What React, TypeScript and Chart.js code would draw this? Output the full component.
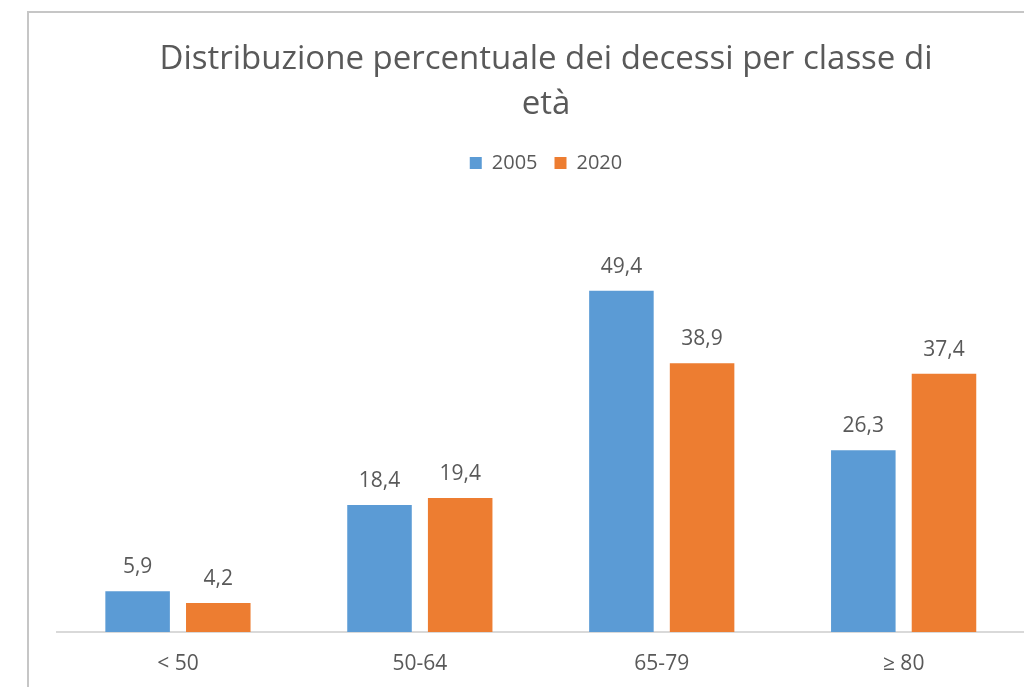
import React, { useEffect, useRef } from "react";
import { Chart, registerables } from "chart.js";

Chart.register(...registerables);

const titleLines = ["Distribuzione percentuale dei decessi per classe di", "età"];
const categories = ["< 50", "50-64", "65-79", "≥ 80"];
const series2005 = [5.9, 18.4, 49.4, 26.3];
const series2020 = [4.2, 19.4, 38.9, 37.4];
const seriesLabels = ["2005", "2020"];

const FONT = "'Open Sans', 'Noto Sans', sans-serif";
const TEXT = "#595959";

const valueLabels = {
  id: "valueLabels",
  afterDatasetsDraw(chart: any) {
    const ctx = chart.ctx;
    ctx.save();
    ctx.font = `21px ${FONT}`;
    ctx.fillStyle = TEXT;
    ctx.textAlign = "center";
    ctx.textBaseline = "alphabetic";
    chart.data.datasets.forEach((ds: any, di: number) => {
      const meta = chart.getDatasetMeta(di);
      meta.data.forEach((bar: any, i: number) => {
        const v = ds.data[i] as number;
        ctx.fillText(v.toFixed(1).replace(".", ","), bar.x, bar.y - 18);
      });
    });
    ctx.restore();
  },
};

export default function App() {
  const ref = useRef<HTMLCanvasElement | null>(null);
  useEffect(() => {
    if (!ref.current) return;
    Chart.defaults.font.family = FONT;
    const chart = new Chart(ref.current, {
      type: "bar",
      data: {
        labels: categories,
        datasets: [
          { label: seriesLabels[0], data: series2005, backgroundColor: "#5B9BD5", borderWidth: 0 },
          { label: seriesLabels[1], data: series2020, backgroundColor: "#ED7D31", borderWidth: 0 },
        ],
      },
      options: {
        animation: false,
        responsive: false,
        devicePixelRatio: 1,
        categoryPercentage: 0.667,
        barPercentage: 0.8,
        layout: { padding: { left: 57, right: 0, top: 0, bottom: 0 } },
        plugins: {
          title: {
            display: true,
            text: titleLines,
            color: TEXT,
            font: { family: FONT, size: 33, weight: "normal", lineHeight: "45px" },
            padding: { top: 37, bottom: 9 },
          },
          legend: {
            display: true,
            position: "top",
            labels: {
              color: TEXT,
              font: { family: FONT, size: 20 },
              boxWidth: 12,
              boxHeight: 12,
              padding: 17,
            },
          },
          tooltip: { enabled: false },
        },
        scales: {
          x: {
            grid: { display: false, drawTicks: false },
            border: { display: true, color: "#D9D9D9", width: 2 },
            ticks: { color: TEXT, font: { family: FONT, size: 21 }, padding: 19 },
            afterFit: (s: any) => {
              s.height = 55;
            },
          },
          y: {
            position: "right",
            min: 0,
            max: 65,
            grid: { display: false, drawTicks: false },
            border: { display: false },
            ticks: { display: false },
            afterFit: (s: any) => {
              s.width = 10.4;
            },
          },
        },
      },
      plugins: [valueLabels],
    } as any);
    return () => chart.destroy();
  }, []);

  return (
    <div style={{ position: "fixed", left: 0, top: 0, width: 1024, height: 687, overflow: "hidden", background: "#fff" }}>
      <div
        style={{
          position: "absolute",
          left: 27,
          top: 11,
          width: 1100,
          height: 800,
          border: "2px solid #C6C6C6",
          boxSizing: "border-box",
        }}
      />
      <canvas ref={ref} width={1035} height={687} style={{ position: "absolute", left: 0, top: 0 }} />
    </div>
  );
}
